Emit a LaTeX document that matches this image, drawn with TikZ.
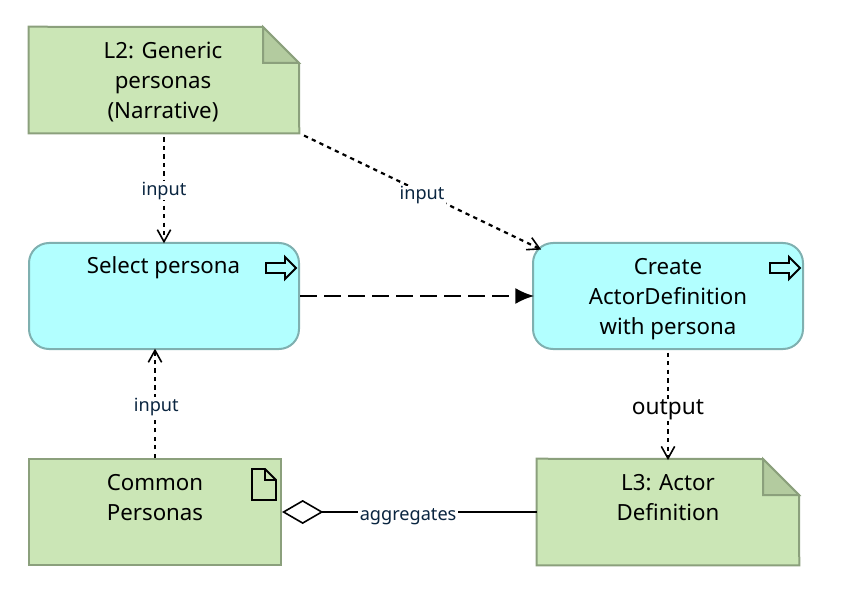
\documentclass[tikz,border=0pt]{standalone}
\usepackage{fontspec}
\setmainfont{Noto Sans}
\usetikzlibrary{arrows.meta,calc}
\definecolor{artifactfill}{HTML}{CBE6B6}
\definecolor{artifactline}{HTML}{8BA07C}
\definecolor{foldfill}{HTML}{B3CB9F}
\definecolor{procfill}{HTML}{B2FFFF}
\definecolor{procline}{HTML}{7FB0B0}
\definecolor{labelink}{HTML}{0A2540}
\tikzset{
  x=0.75pt,y=-0.75pt,
  artifact/.style={draw=none,inner sep=0pt,minimum height=79.5pt},
  artifactshape/.style={draw=artifactline,fill=artifactfill,line width=1.5pt},
  foldshape/.style={draw=artifactline,fill=foldfill,line width=1.5pt,line join=miter},
  process/.style={draw=procline,fill=procfill,line width=1.5pt,rounded corners=15pt,minimum width=202.5pt,minimum height=79.5pt,inner sep=0pt},
  caption/.style={font=\fontsize{16.7pt}{22.5pt}\selectfont,align=center,text=black,inner sep=0pt,yshift=-1.2pt},
  icon/.style={draw=black,line width=1.4pt,line join=miter,fill=none},
  flowlabel/.style={fill=white,inner xsep=1.5pt,inner ysep=0.5pt,text=labelink,yshift=-2.2pt,font=\fontsize{13.6pt}{15pt}\selectfont},
  outlabel/.style={fill=white,inner xsep=1.5pt,inner ysep=0.5pt,text=black,yshift=-4pt,font=\fontsize{17pt}{18pt}\selectfont},
  access/.style={draw=black,line width=1.65pt,dash pattern=on 3.2pt off 3.2pt,shorten >=-1pt,-{Straight Barb[length=9pt,width=10pt,line width=1.2pt]}},
  trigger/.style={draw=black,line width=1.5pt,dash pattern=on 13pt off 5pt,shorten >=-1.5pt,-{Latex[length=14pt,width=12pt]}},
  aggregation/.style={draw=black,line width=1.5pt,{Diamond[open,fill=white,length=31pt,width=18pt,line width=1.2pt]}-},
}
\begin{document}
\begin{tikzpicture}
\useasboundingbox (0,0) rectangle (848,616);
% L2 note
\node[artifact,minimum width=202.5pt] (generic) at (164,80) {};
\draw[artifactshape] (generic.north west) -- (263,27) -- (299,63) -- (generic.south east) -- (generic.south west) -- cycle;
\draw[foldshape] (263,27) -- (263,63) -- (299,63) -- cycle;
\node[caption] (generictext) at (163,80) {L2: Generic\\personas\\(Narrative)};
% Select persona
\node[process] (select) at (164,296) {};
\node[caption] (selecttext) at (163.5,266) {Select persona};
\draw[icon] (266,263) -- (285,263) -- (285,257) -- (296,268) -- (285,279) -- (285,273) -- (266,273) -- cycle;
% Create
\node[process] (create) at (668,296) {};
\node[caption] (createtext) at (668,298) {Create\\ActorDefinition\\with persona};
\draw[icon] (770,263) -- (789,263) -- (789,257) -- (800,268) -- (789,279) -- (789,273) -- (770,273) -- cycle;
% Common Personas
\node[artifact,minimum width=189pt,draw=artifactline,fill=artifactfill,line width=1.5pt] (common) at (155,512) {};
\node[caption] (commontext) at (155,496) {Common\\Personas};
\draw[icon,line join=miter] (252,469) -- (265,469) -- (276,480) -- (276,500) -- (252,500) -- cycle;
\draw[icon] (265,469) -- (265,480) -- (276,480);
% L3 note
\node[artifact,minimum width=196.5pt] (actor) at (668,512) {};
\draw[artifactshape] (actor.north west) -- (763,459) -- (799,495) -- (actor.south east) -- (actor.south west) -- cycle;
\draw[foldshape] (763,459) -- (763,495) -- (799,495) -- cycle;
\node[caption] (actortext) at (668,496) {L3: Actor\\Definition};
% connectors
\coordinate (createcorner) at (540,249);
\draw[access,shorten <=3pt] (generic.south) -- node[flowlabel] (lab1) {input} (select.north);
\draw[access,shorten <=4pt] (generic.south east) -- node[flowlabel,pos=0.51] (lab2) {input} (createcorner);
\draw[trigger] (select.east) -- (create.west);
\draw[access] (common.north) -- node[flowlabel,xshift=1pt] (lab3) {input} (common.north |- select.south);
\draw[access,shorten <=2pt] (create.south) -- node[outlabel] (lab4) {output} (actor.north);
\draw[aggregation] (common.east) -- node[flowlabel,pos=0.495,yshift=-1pt] (lab5) {aggregates} (actor.west);
\end{tikzpicture}
\end{document}
